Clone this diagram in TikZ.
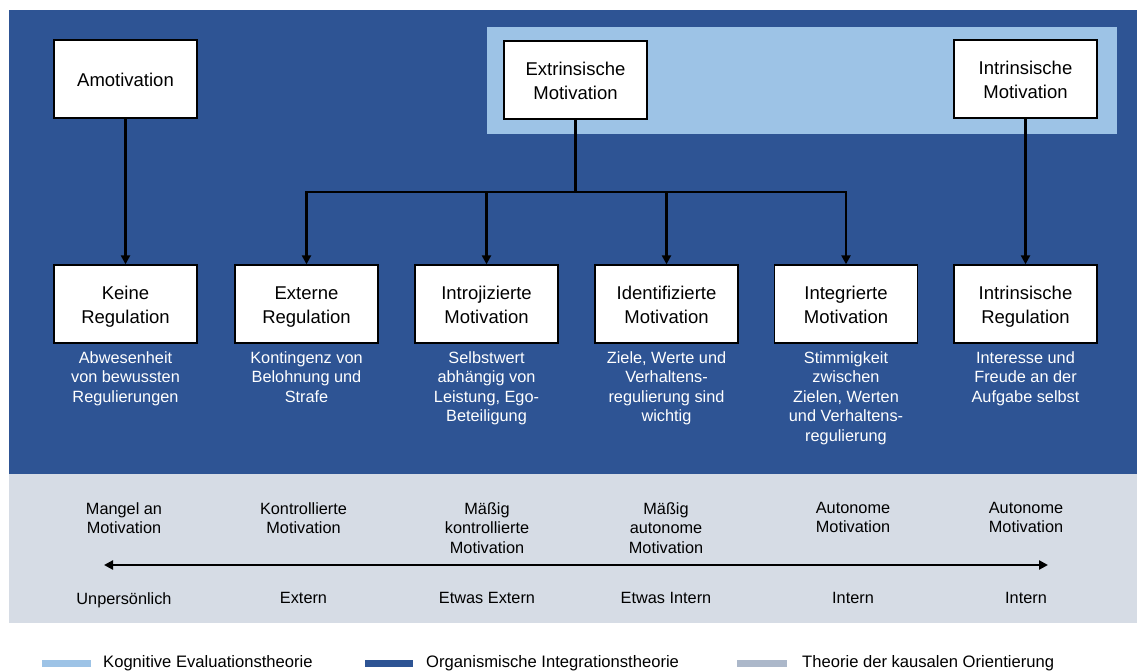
\documentclass[tikz,border=0pt]{standalone}
\usepackage{fontspec}
\setmainfont{Liberation Sans}
\usetikzlibrary{arrows.meta}
\definecolor{darkpanel}{RGB}{46,84,148}
\definecolor{lightpanel}{RGB}{157,195,230}
\definecolor{graypanel}{RGB}{214,220,229}
\definecolor{grayswatch}{RGB}{172,184,202}
% invisible rules that fix the height of the first and the depth of the last line in a box
\newcommand\boxtop{\rule{0pt}{19.8pt}}
\newcommand\boxbot{\rule[-4.2pt]{0pt}{4.2pt}}
\tikzset{
  box/.style={draw=black, line width=1.4pt, fill=white, minimum width=143pt,
    minimum height=78pt, align=center, inner sep=2pt,
    font=\fontsize{18.5}{24}\selectfont},
  desc/.style={anchor=north, align=center, inner sep=0pt, text=white,
    font=\fontsize{16.3}{19.5}\selectfont},
  qlabel/.style={anchor=north, align=center, inner sep=0pt, text=black,
    font=\fontsize{16.3}{19.5}\selectfont},
  legendtext/.style={anchor=north west, inner sep=0pt,
    font=\fontsize{16.6}{19.5}\selectfont},
  conn/.style={line width=2.8pt, draw=black},
  tip/.style={-{Triangle[length=9pt,width=9pt]}},
}
\begin{document}
\begin{tikzpicture}[x=1pt,y=-1pt]
\useasboundingbox (0,0) rectangle (1137,670);
% background panels
\fill[white] (0,0) rectangle (1137,670);
\fill[darkpanel] (9,10) rectangle (1137,474);
\fill[lightpanel] (487,27) rectangle (1117,134);
\fill[graypanel] (9,474) rectangle (1137,623);

% top row
\node[box] (amot) at (125.5,79) {\boxtop Amotivation\boxbot};
\node[box] (extr) at (575.5,80) {\boxtop Extrinsische\\Motivation\boxbot};
\node[box] (intr) at (1025.5,79) {\boxtop Intrinsische\\Motivation\boxbot};

% regulation row
\node[box] (keine) at (125.5,304) {\boxtop Keine\\Regulation\boxbot};
\node[box] (ext) at (306.5,304) {\boxtop Externe\\Regulation\boxbot};
\node[box] (intro) at (486.5,304) {\boxtop Introjizierte\\Motivation\boxbot};
\node[box] (ident) at (666.5,304) {\boxtop Identifizierte\\Motivation\boxbot};
\node[box] (integ) at (846,304) {\boxtop Integrierte\\Motivation\boxbot};
\node[box] (ireg) at (1025.5,304) {\boxtop Intrinsische\\Regulation\boxbot};

% connectors
\coordinate (split) at (575.5,192);
\draw[conn,tip] (amot.south) -- (keine.north);
\draw[conn,tip] (intr.south) -- (ireg.north);
\draw[conn] (extr.south) -- (split);
\draw[conn,line cap=rect] (ext.north |- split) -- (integ.north |- split);
\foreach \t in {ext,intro,ident,integ}
  \draw[conn,tip] (\t.north |- split) -- (\t.north);

% descriptions
\node[desc] (d1) at (125.5,351) {Abwesenheit\\von bewussten\\Regulierungen};
\node[desc] (d2) at (306.5,351) {Kontingenz von\\Belohnung und\\Strafe};
\node[desc] (d3) at (486.5,351) {Selbstwert\\abhängig von\\Leistung, Ego-\\Beteiligung};
\node[desc] (d4) at (666.5,351) {Ziele, Werte und\\Verhaltens-\\regulierung sind\\wichtig};
\node[desc] (d5) at (846,351) {Stimmigkeit\\zwischen\\Zielen, Werten\\und Verhaltens-\\regulierung};
\node[desc] (d6) at (1025.5,351) {Interesse und\\Freude an der\\Aufgabe selbst};

% motivation quality scale
\node[qlabel] (q1) at (124,502) {Mangel an\\Motivation};
\node[qlabel] (q2) at (303.5,502) {Kontrollierte\\Motivation};
\node[qlabel] (q3) at (487,502) {Mäßig\\kontrollierte\\Motivation};
\node[qlabel] (q4) at (666,502) {Mäßig\\autonome\\Motivation};
\node[qlabel] (q5) at (853,502) {Autonome\\Motivation};
\node[qlabel] (q6) at (1026,502) {Autonome\\Motivation};

\coordinate (aL) at (104,565);
\coordinate (aR) at (1048,565);
\draw[line width=2.3pt,{Triangle[length=9pt,width=9pt]}-{Triangle[length=9pt,width=9pt]}] (aL) -- (aR);

\node[qlabel] (l1) at (124,592) {Unpersönlich};
\node[qlabel] (l2) at (303.5,592) {Extern};
\node[qlabel] (l3) at (487,592) {Etwas Extern};
\node[qlabel] (l4) at (666,592) {Etwas Intern};
\node[qlabel] (l5) at (853,592) {Intern};
\node[qlabel] (l6) at (1026,592) {Intern};

% legend
\fill[lightpanel] (42,660) rectangle (91,667);
\node[legendtext] (k1) at (103,655) {Kognitive Evaluationstheorie};
\fill[darkpanel] (365,660) rectangle (413,667);
\node[legendtext] (k2) at (426,655) {Organismische Integrationstheorie};
\fill[grayswatch] (737,660) rectangle (787,667);
\node[legendtext] (k3) at (802,655) {Theorie der kausalen Orientierung};
\end{tikzpicture}
\end{document}
